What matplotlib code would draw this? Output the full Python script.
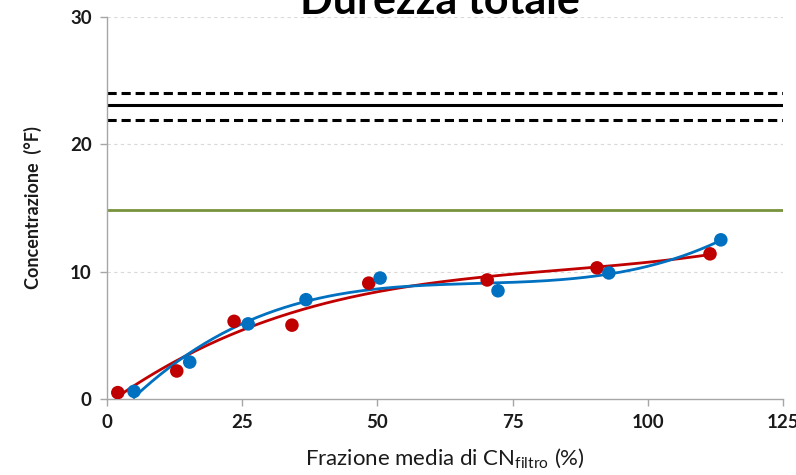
import numpy as np
import matplotlib
matplotlib.use("Agg")
import matplotlib.pyplot as plt

red_x = [2.0, 12.9, 23.5, 34.2, 48.4, 70.3, 90.6, 111.5]
red_y = [0.5, 2.2, 6.1, 5.8, 9.1, 9.35, 10.3, 11.4]
blue_x = [5.0, 15.3, 26.1, 36.8, 50.5, 72.3, 92.8, 113.5]
blue_y = [0.6, 2.9, 5.9, 7.8, 9.5, 8.5, 9.9, 12.5]

limit_mid = 23.1
limit_hi = 24.05
limit_lo = 21.9
green_level = 14.85

xticks = [0, 25, 50, 75, 100, 125]
yticks = [0, 10, 20, 30]

RED = "#C00000"
BLUE = "#0070C0"
GREEN = "#77933C"

plt.rcParams['font.family'] = ['Lato', 'DejaVu Sans']

fig = plt.figure(figsize=(7.96, 4.75), dpi=100)
ax = fig.add_axes([0.1344, 0.16, 0.8493, 0.8042])

ax.set_xlim(0, 125)
ax.set_ylim(0, 30)

for yv in [10, 20, 30]:
    ax.axhline(yv, color="#D9D9D9", lw=0.8, ls=(0, (3, 3)), zorder=0)

ax.axhline(limit_hi, color="black", lw=2.2, ls=(0, (3, 1.6)), zorder=2)
ax.axhline(limit_lo, color="black", lw=2.2, ls=(0, (3, 1.6)), zorder=2)
ax.axhline(limit_mid, color="black", lw=2.2, zorder=2)
ax.axhline(green_level, color=GREEN, lw=2.0, zorder=2)

# polynomial trendlines
rc = np.polyfit(red_x, red_y, 3)
xr = np.linspace(min(red_x), max(red_x), 200)
ax.plot(xr, np.polyval(rc, xr), color=RED, lw=2.0, zorder=3)
bc = np.polyfit(blue_x, blue_y, 3)
xb = np.linspace(min(blue_x), max(blue_x), 200)
ax.plot(xb, np.polyval(bc, xb), color=BLUE, lw=2.0, zorder=3)

ax.scatter(red_x, red_y, s=95, color=RED, zorder=4, edgecolors='none')
ax.scatter(blue_x, blue_y, s=95, color=BLUE, zorder=4, edgecolors='none')

for s in ["top", "right"]:
    ax.spines[s].set_visible(False)
for s in ["left", "bottom"]:
    ax.spines[s].set_color("#A6A6A6")
    ax.spines[s].set_linewidth(1.0)

ax.set_xticks(xticks)
ax.set_yticks(yticks)
ax.tick_params(axis='both', colors="#A6A6A6", length=5, width=1.0,
               labelcolor="#1a1a1a", labelsize=13.5, pad=6)
for lab in ax.get_xticklabels() + ax.get_yticklabels():
    lab.set_fontweight('bold')

ax.set_xlabel("Frazione media di CN$_{\\mathregular{filtro}}$ (%)", fontsize=16,
              color="#1a1a1a", labelpad=11)
ax.set_ylabel("Concentrazione  (°F)", fontsize=13, fontweight='bold',
              color="#1a1a1a", labelpad=20)

fig.text(0.553, 0.9705, "Durezza totale", fontsize=31, fontweight='bold',
         ha='center', va='baseline', color='black')

fig.savefig("out.png", dpi=100)
